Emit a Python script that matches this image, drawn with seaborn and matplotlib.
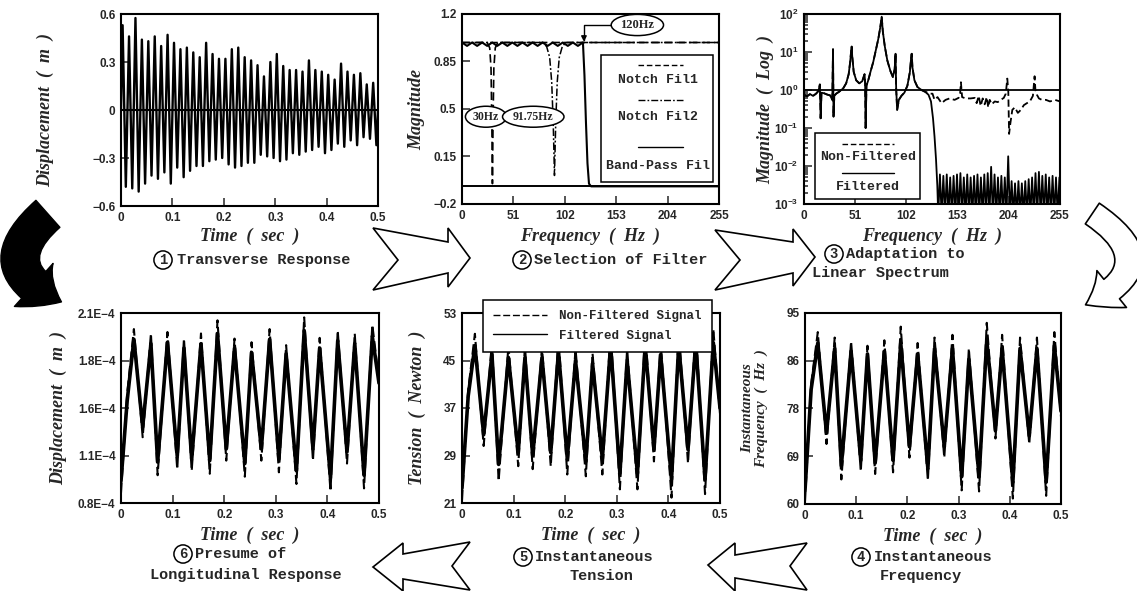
import numpy as np
import seaborn as sns
import matplotlib.pyplot as plt
from matplotlib.lines import Line2D
from matplotlib.patches import Polygon, Rectangle, FancyArrowPatch
from matplotlib.ticker import FixedLocator, FixedFormatter, LogLocator, NullFormatter

W, H = 1137, 591

# (1) transverse response [m] - one peak and one trough per cycle
resp_peaks = [0.53, 0.46, 0.575, 0.44, 0.43, 0.46, 0.40, 0.47, 0.42, 0.38,
              0.39, 0.36, 0.33, 0.42, 0.35, 0.32, 0.32, 0.38, 0.39, 0.33,
              0.31, 0.28, 0.21, 0.30, 0.35, 0.275, 0.25, 0.25, 0.24, 0.31,
              0.25, 0.24, 0.22, 0.19, 0.29, 0.24, 0.22, 0.23, 0.16, 0.17]
resp_troughs = [-0.48, -0.49, -0.51, -0.46, -0.41, -0.43, -0.39, -0.46, -0.36, -0.42,
                -0.38, -0.35, -0.35, -0.32, -0.31, -0.30, -0.34, -0.36, -0.35, -0.33,
                -0.33, -0.28, -0.29, -0.30, -0.32, -0.31, -0.27, -0.28, -0.26, -0.25,
                -0.23, -0.27, -0.25, -0.21, -0.23, -0.19, -0.22, -0.17, -0.18, -0.22]
resp_half_period = 0.00625  # sec

# (2) filter magnitudes
freq_ticks = [0, 51, 102, 153, 204, 255]
notch1_freq = [0, 25, 27.5, 28.8, 29.6, 30.2, 30.8, 31.6, 33, 35.5, 255]
notch1_mag = [0.99, 0.99, 0.95, 0.8, 0.4, -0.05, 0.4, 0.8, 0.95, 0.99, 0.99]
notch2_freq = [0, 80, 84, 87, 89, 90.5, 91.75, 93, 94.5, 96.5, 99.5, 103, 255]
notch2_mag = [0.99, 0.99, 0.96, 0.88, 0.7, 0.4, 0.01, 0.4, 0.7, 0.88, 0.96, 0.99, 0.99]
bp_freq = [0, 5, 10, 15, 20, 25, 30, 35, 40, 45, 50, 55, 60, 65, 70, 75, 80, 85,
           90, 95, 100, 105, 110, 115, 120, 121.5, 123, 124.5, 126, 128, 255]
bp_mag = [0.99, 0.965, 0.99, 0.965, 0.99, 0.965, 0.99, 0.965, 0.99, 0.965, 0.99, 0.965,
          0.99, 0.965, 0.99, 0.965, 0.99, 0.965, 0.99, 0.965, 0.99, 0.965, 0.99, 0.965,
          0.99, 0.75, 0.4, 0.1, -0.05, -0.07, -0.07]
filter_floor = -0.07

# (3) linear spectrum (frequency Hz, magnitude)
spec_nonfilt = [(0, 0.75), (3, 0.68), (6, 0.78), (9, 0.7), (12, 0.8), (14.5, 0.95),
                (15.8, 1.4), (16.6, 0.18), (17.4, 0.85), (20, 0.82), (23, 0.76), (26, 0.72),
                (28.2, 0.55), (28.9, 12), (29.4, 0.2), (30.2, 0.7), (32, 0.8), (35, 0.9),
                (39, 1.1), (42, 1.5), (44.5, 2.6), (46, 5.5), (47, 11), (47.5, 14), (48, 8),
                (49.5, 3), (52, 1.8), (55, 1.5), (58, 1.7), (60.3, 2.6), (60.9, 1.5),
                (61.4, 0.1), (62.2, 1.3), (64, 1.8), (66.5, 3.2), (69, 5.5), (71.5, 11),
                (74, 22), (76, 45), (77.4, 85), (78.5, 35), (80.5, 14), (83, 6), (86, 3.2),
                (88.5, 2.2), (90.3, 3.5), (91.2, 9), (91.8, 1.1), (92.8, 0.3), (94.5, 0.55),
                (97, 0.7), (100, 0.85), (103, 1.3), (105.5, 3), (106.7, 7), (107.3, 9),
                (108, 4), (110, 1.8), (113, 1.2), (117, 1.0), (121, 0.9), (125, 0.8),
                (128, 0.8), (130, 0.55), (133, 0.65), (137, 0.45), (141, 0.55), (145, 0.6),
                (150, 0.55), (154, 0.62), (155.5, 0.8), (156.3, 1.6), (157.5, 0.65),
                (161, 0.6), (166, 0.6), (170, 0.62), (172, 0.45), (174, 0.7), (176, 0.38),
                (178, 0.6), (180, 0.42), (182, 0.65), (183.5, 0.35), (185, 0.55), (187, 0.42),
                (190, 0.5), (193, 0.48), (196, 0.55), (199, 0.62), (201, 0.8), (202.5, 2.0),
                (203.5, 0.9), (204.3, 0.07), (205.5, 0.13), (207.5, 0.3), (210, 0.35),
                (213, 0.25), (216, 0.3), (219, 0.4), (222, 0.45), (225, 0.5), (228, 0.7),
                (229.7, 2.3), (230.5, 1.0), (232, 0.75), (234, 0.6), (237, 0.55), (241, 0.55),
                (245, 0.5), (250, 0.55), (255, 0.5)]
spec_rolloff = [(121, 0.88), (124, 0.75), (126.5, 0.5), (128.5, 0.18), (130, 0.06),
                (131.5, 0.015), (132.8, 0.003), (133.7, 0.0005)]
lobe_peaks = [0.006, 0.0055, 0.006, 0.005, 0.0055, 0.006, 0.0065, 0.005, 0.006, 0.005,
              0.0055, 0.006, 0.005, 0.006, 0.0065, 0.0095, 0.006, 0.005, 0.0055, 0.005,
              0.018, 0.004, 0.0035, 0.004, 0.0035, 0.004, 0.0045, 0.005, 0.0065, 0.007,
              0.0055, 0.006, 0.005, 0.0055, 0.005, 0.005]
lobe_first_null, lobe_width, lobe_null = 133.7, 3.4, 0.0005

# (4)-(6) instantaneous signals, turning points in time
swing_t = [0.000, 0.012, 0.025, 0.042, 0.058, 0.071, 0.090, 0.109, 0.122, 0.137, 0.155,
           0.172, 0.187, 0.204, 0.220, 0.240, 0.253, 0.272, 0.288, 0.306, 0.320, 0.340,
           0.355, 0.372, 0.385, 0.406, 0.420, 0.438, 0.453, 0.471, 0.487, 0.500]
freq_nf = [60.5, 82, 91.5, 71, 90.5, 64.5, 89.8, 66, 89, 65.5, 90, 65.8, 92.5, 68.5, 89.5,
           64.3, 90.5, 68.5, 91, 62.5, 88.5, 62.3, 93.2, 72, 91, 61, 90.5, 71, 90.5, 61.5,
           91.5, 76]
freq_f = [62.5, 81, 89.5, 73, 88.5, 67, 88, 68, 87.5, 67.5, 88, 68, 89.5, 70.5, 87.5, 66.5,
          88.5, 70.5, 88.5, 65, 86.5, 65, 90, 73.5, 88.5, 64, 88.5, 72.5, 88.5, 64, 89, 77]
tension_nf = [21.5, 40, 49.5, 30.6, 48.1, 24.7, 47.5, 27.2, 47.5, 26.7, 47.2, 27.2, 49.0,
              25.8, 47.0, 25.5, 46.2, 25.8, 50.1, 23.3, 47.0, 23.3, 50.0, 28.0, 48.1, 21.9,
              50.0, 27.7, 50.6, 22.5, 50.3, 36.0]
tension_f = [23.5, 39, 47.5, 32.5, 46, 27.5, 45.5, 29.5, 45.5, 29, 45.5, 29.5, 46.5, 28.5,
             45, 28, 44.5, 28.5, 47.5, 26, 45, 26, 47.5, 30, 46, 25, 47.5, 30, 48, 25, 48, 37]
long_nf = [0.87, 1.55, 1.99, 1.25, 1.96, 0.99, 1.97, 1.03, 1.925, 1.02, 1.96, 1.0, 2.05,
           1.09, 1.925, 0.98, 1.90, 1.09, 1.99, 1.01, 1.88, 0.93, 2.07, 1.09, 1.93, 0.88,
           1.98, 1.07, 1.96, 0.90, 2.02, 1.64]  # x 1E-4 m
long_f = [0.95, 1.5, 1.92, 1.32, 1.89, 1.08, 1.9, 1.12, 1.86, 1.1, 1.89, 1.09, 1.96, 1.17,
          1.86, 1.07, 1.83, 1.17, 1.92, 1.1, 1.82, 1.02, 1.98, 1.17, 1.86, 0.97, 1.91, 1.15,
          1.89, 0.99, 1.94, 1.62]

time_ticks = [0, 0.1, 0.2, 0.3, 0.4, 0.5]
time_labels = ['0', '0.1', '0.2', '0.3', '0.4', '0.5']

sns.set_style("ticks")
plt.rcParams['font.family'] = ['Liberation Sans', 'DejaVu Sans']
plt.rcParams['font.weight'] = 'bold'
plt.rcParams['mathtext.default'] = 'bf'

MONO = 'Liberation Mono'
LABEL_FONT = dict(family='Liberation Serif', style='italic', weight='bold', size=13)
CAP_FONT = dict(family=MONO, weight='bold', size=11)

fig = plt.figure(figsize=(W / 100, H / 100), dpi=100)


def px(x, y):
    return x / W, 1 - y / H


def panel(l, t, r, b):
    return fig.add_axes([l / W, 1 - b / H, (r - l) / W, (b - t) / H])


def finish(ax, xlabel, ylabel, ylab_x, xlab_y, ylab_size=13):
    ax.set_xlabel(xlabel, **LABEL_FONT)
    ax.set_ylabel(ylabel, **{**LABEL_FONT, 'size': ylab_size})
    ax.xaxis.set_label_coords(0.5, xlab_y)
    ax.yaxis.set_label_coords(ylab_x, 0.5)
    for s in ax.spines.values():
        s.set_linewidth(1.5)
        s.set_color('black')
    ax.tick_params(which='both', direction='in', top=False, right=False,
                   labelsize=8.5, pad=4, width=1.1)
    ax.tick_params(which='major', length=6)
    ax.tick_params(which='minor', length=3)


def line(ax, x, y, ls='-', lw=1.2):
    sns.lineplot(x=list(x), y=list(y), ax=ax, color='black', lw=lw, linestyle=ls,
                 estimator=None, sort=False)


def caption(num, cx, cy, rows):
    fig.text(*px(cx, cy), num, ha='center', va='center', family=MONO, weight='bold',
             size=10, bbox=dict(boxstyle='circle,pad=0.15', fc='white', ec='black', lw=1.1))
    for x, y, s in rows:
        fig.text(*px(x, y), s, ha='left', va='center', **CAP_FONT)


# ---------- (1) transverse response
ax1 = panel(121, 14, 378, 206)
resp = np.column_stack([resp_peaks, resp_troughs]).ravel()
resp_t = resp_half_period * (np.arange(resp.size) + 0.5)
line(ax1, np.r_[0, resp_t, 0.5], np.r_[0, resp, 0.0], lw=1.7)
ax1.axhline(0, color='black', lw=1.5)
ax1.set_xlim(0, 0.5)
ax1.set_ylim(-0.6, 0.6)
ax1.xaxis.set_major_locator(FixedLocator(time_ticks))
ax1.xaxis.set_major_formatter(FixedFormatter(time_labels))
ax1.yaxis.set_major_locator(FixedLocator([-0.6, -0.3, 0, 0.3, 0.6]))
ax1.yaxis.set_major_formatter(FixedFormatter(['\u22120.6', '\u22120.3', '0', '0.3', '0.6']))
finish(ax1, 'Time  (  sec  )', 'Displacement  (  m  )', -0.26, -0.115)

# ---------- (2) selection of filter
ax2 = panel(462, 14, 719, 204)
ax2.axhline(filter_floor, color='black', lw=1.4)
line(ax2, notch1_freq, notch1_mag, ls=(0, (5, 2.5)), lw=1.2)
line(ax2, notch2_freq, notch2_mag, ls=(0, (5, 1.5, 1.2, 1.5)), lw=1.1)
line(ax2, bp_freq, bp_mag, lw=1.5)
ax2.set_xlim(0, 255)
ax2.set_ylim(-0.2, 1.2)
ax2.xaxis.set_major_locator(FixedLocator(freq_ticks))
ax2.yaxis.set_major_locator(FixedLocator([-0.2, 0.15, 0.5, 0.85, 1.2]))
ax2.yaxis.set_major_formatter(FixedFormatter(['\u22120.2', '0.15', '0.5', '0.85', '1.2']))
finish(ax2, 'Frequency  (  Hz  )', 'Magnitude', -0.145, -0.125)
ell = dict(boxstyle='ellipse,pad=0.12', fc='white', ec='black', lw=1.1)
ax2.text(23.8, 0.443, '30Hz', ha='center', va='center', family='Liberation Serif',
         weight='bold', size=8.5, bbox=ell, zorder=6)
ax2.text(70.7, 0.443, '91.75Hz', ha='center', va='center', family='Liberation Serif',
         weight='bold', size=8.5, bbox=ell, zorder=6)
ax2.annotate('120Hz', xy=(121, 0.995), xytext=(174, 1.119), ha='center', va='center',
             family='Liberation Serif', weight='bold', size=9, bbox=ell, zorder=6,
             arrowprops=dict(arrowstyle='-|>', color='black', lw=1, shrinkA=0, shrinkB=0,
                             mutation_scale=8,
                             connectionstyle='angle,angleA=0,angleB=90,rad=0'))
ax2.add_patch(Rectangle((0.54, 0.117), 0.438, 0.667, transform=ax2.transAxes,
                        fc='white', ec='black', lw=1.1, zorder=4))
for y, ls in [(0.732, (0, (4, 2))), (0.547, (0, (5, 1.5, 1.2, 1.5))), (0.302, '-')]:
    ax2.add_line(Line2D([0.685, 0.86], [y, y], transform=ax2.transAxes, color='black',
                        lw=1, ls=ls, zorder=5))
for y, s in [(0.653, 'Notch Fil1'), (0.458, 'Notch Fil2'), (0.2, 'Band-Pass Fil')]:
    ax2.text(0.763, y, s, transform=ax2.transAxes, ha='center', va='center',
             family=MONO, size=9.5, zorder=5)

# ---------- (3) linear spectrum
ax3 = panel(804, 14, 1060, 204)
nf_f, nf_m = zip(*spec_nonfilt)
keep = [(f, m) for f, m in spec_nonfilt if f <= 117]
nulls = lobe_first_null + lobe_width * np.arange(len(lobe_peaks) + 1)
lobe_f = np.column_stack([nulls[:-1], nulls[:-1] + lobe_width / 2]).ravel()
lobe_m = np.column_stack([np.full(len(lobe_peaks), lobe_null), lobe_peaks]).ravel()
filt_f = [f for f, _ in keep] + [f for f, _ in spec_rolloff] + list(lobe_f)
filt_m = [m for _, m in keep] + [m for _, m in spec_rolloff] + list(lobe_m)
ax3.set_yscale('log')
line(ax3, nf_f, nf_m, ls=(0, (4, 2)), lw=1.3)
line(ax3, filt_f, filt_m, lw=1.3)
ax3.axhline(1.0, color='black', lw=1.3)
ax3.set_xlim(0, 255)
ax3.set_ylim(1e-3, 1e2)
ax3.xaxis.set_major_locator(FixedLocator(freq_ticks))
ax3.yaxis.set_major_locator(LogLocator(base=10, numticks=10))
ax3.yaxis.set_minor_locator(LogLocator(base=10, subs=np.arange(2, 10), numticks=10))
ax3.yaxis.set_minor_formatter(NullFormatter())
finish(ax3, 'Frequency  (  Hz  )', 'Magnitude  (  Log  )', -0.115, -0.125)
ax3.add_patch(Rectangle((0.044, 0.025), 0.41, 0.347, transform=ax3.transAxes,
                        fc='white', ec='black', lw=1.1, zorder=4))
for y, ls in [(0.316, (0, (4, 2))), (0.162, '-')]:
    ax3.add_line(Line2D([0.148, 0.35], [y, y], transform=ax3.transAxes, color='black',
                        lw=1, ls=ls, zorder=5))
for y, s in [(0.249, 'Non-Filtered'), (0.091, 'Filtered')]:
    ax3.text(0.249, y, s, transform=ax3.transAxes, ha='center', va='center',
             family=MONO, size=9.5, zorder=5)


# ---------- (4)-(6) instantaneous signals
def signal_panel(l, t, r, b, nf, filt, ylim, yticks, ylabels, ylabel, ylab_x, ylab_size=13):
    ax = panel(l, t, r, b)
    line(ax, swing_t, filt, lw=2.6)
    line(ax, swing_t, nf, ls=(0, (5, 2)), lw=1.5)
    ax.set_xlim(0, 0.5)
    ax.set_ylim(*ylim)
    ax.xaxis.set_major_locator(FixedLocator(time_ticks))
    ax.xaxis.set_major_formatter(FixedFormatter(time_labels))
    ax.yaxis.set_major_locator(FixedLocator(yticks))
    ax.yaxis.set_major_formatter(FixedFormatter(ylabels))
    finish(ax, 'Time  (  sec  )', ylabel, ylab_x, -0.125, ylab_size)
    return ax


ax4 = signal_panel(805, 313, 1061, 504, freq_nf, freq_f, (60, 95),
                   [60, 68.75, 77.5, 86.25, 95], ['60', '69', '78', '86', '95'],
                   'Instantaneous\nFrequency  (  Hz  )', -0.145, 11)
ax5 = signal_panel(462, 313, 720, 503, tension_nf, tension_f, (21, 53),
                   [21, 29, 37, 45, 53], ['21', '29', '37', '45', '53'],
                   'Tension  (  Newton  )', -0.14)
ax6 = signal_panel(121, 313, 379, 503, long_nf, long_f, (0.8, 2.1),
                   [0.8, 1.125, 1.45, 1.775, 2.1],
                   ['0.8E\u22124', '1.1E\u22124', '1.6E\u22124', '1.8E\u22124', '2.1E\u22124'],
                   'Displacement  (  m  )', -0.21)
ax4.yaxis.label.set_linespacing(1.0)
leg = ax5.legend(handles=[Line2D([], [], color='black', lw=1, ls=(0, (5, 2))),
                          Line2D([], [], color='black', lw=1)],
                 labels=['Non-Filtered Signal', 'Filtered Signal'],
                 loc='upper left', bbox_to_anchor=(0.081, 1.068), borderaxespad=0,
                 handlelength=4.3, handletextpad=1.0, labelspacing=0.6, borderpad=0.8,
                 fancybox=False, framealpha=1, edgecolor='black',
                 prop=dict(family=MONO, size=9))
leg.get_frame().set_linewidth(1.1)
leg.set_zorder(10)

# ---------- captions
caption('1', 163, 260, [(177, 260, 'Transverse Response')])
caption('2', 522, 260, [(534, 260, 'Selection of Filter')])
caption('3', 834, 254, [(846, 254, 'Adaptation to'), (812, 273, 'Linear Spectrum')])
caption('4', 861, 557, [(874, 557, 'Instantaneous'), (880, 576, 'Frequency')])
caption('5', 523, 557, [(535, 557, 'Instantaneous'), (570, 576, 'Tension')])
caption('6', 183, 554, [(195, 554, 'Presume of'), (150, 575, 'Longitudinal Response')])

# ---------- block arrows between the steps
block_arrows = [
    [(373, 228), (448, 242), (448, 228), (470, 258), (448, 287), (448, 273), (373, 290), (398, 260)],
    [(715, 230), (793, 242), (793, 229), (815, 257), (793, 286), (793, 273), (715, 290), (740, 260)],
    [(373, 567), (403, 543), (403, 554), (470, 542), (452, 566), (470, 590), (403, 579), (403, 591)],
    [(708, 565), (735, 543), (735, 555), (807, 543), (790, 566), (807, 590), (735, 578), (735, 591)],
]
for pts in block_arrows:
    fig.patches.append(Polygon([px(x, y) for x, y in pts], closed=True,
                               transform=fig.transFigure, fc='white', ec='black',
                               lw=1.2, zorder=1))

fig.patches.append(FancyArrowPatch(px(1090, 212), px(1083, 306), transform=fig.transFigure,
                                   connectionstyle='arc3,rad=-0.9',
                                   arrowstyle='simple,head_length=1.1,head_width=1.7,tail_width=0.9',
                                   mutation_scale=20, fc='white', ec='black', lw=1.2))
fig.patches.append(FancyArrowPatch(px(50, 212), px(64, 303), transform=fig.transFigure,
                                   connectionstyle='arc3,rad=0.8',
                                   arrowstyle='simple,head_length=0.9,head_width=1.6,tail_width=1.0',
                                   mutation_scale=26, fc='black', ec='black', lw=1))

fig.savefig('out.png', dpi=100, facecolor='white')
